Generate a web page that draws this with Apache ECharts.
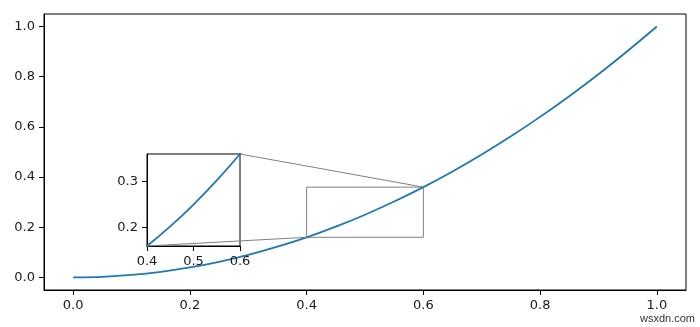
<!DOCTYPE html>
<html><head><meta charset="utf-8">
<script src="https://cdn.jsdelivr.net/npm/echarts@6/dist/echarts.min.js"></script>
<style>html,body{margin:0;padding:0;background:#fff}#c{width:700px;height:327px}</style>
</head><body><div id="c"></div>
<script>
// data
const xValues = [0,0.05,0.1,0.15,0.2,0.25,0.3,0.35,0.4,0.45,0.5,0.55,0.6,0.65,0.7,0.75,0.8,0.85,0.9,0.95,1.0];
const yValues = [0,0.0025,0.01,0.0225,0.04,0.0625,0.09,0.1225,0.16,0.2025,0.25,0.3025,0.36,0.4225,0.49,0.5625,0.64,0.7225,0.81,0.9025,1.0];
const mainXTicks = [0,0.2,0.4,0.6,0.8,1.0];
const mainYTicks = [0,0.2,0.4,0.6,0.8,1.0];
const zoomX = [0.4,0.6];
const zoomY = [0.16,0.36];
const insetXTicks = [0.4,0.5,0.6];
const insetYTicks = [0.2,0.3];

const pts = xValues.map((x,i)=>[x,yValues[i]]);
const FONT = 'DejaVu Sans';
const BLUE = '#1f77b4';
const GRAY = '#808080';
const chart = echarts.init(document.getElementById('c'), null, {renderer:'canvas'});

function axisCommon(ticks, fmt, margin){
  return {
    type:'value',
    axisLine:{show:true,onZero:false,lineStyle:{color:'#000',width:1}},
    axisTick:{show:true,inside:false,length:5,customValues:ticks,lineStyle:{color:'#000',width:1}},
    axisLabel:{show:true,customValues:ticks,formatter:fmt,color:'#1a1a1a',fontFamily:FONT,fontSize:13,margin:margin},
    splitLine:{show:false}
  };
}
const f1 = v=>v.toFixed(1);

chart.setOption({
  animation:false,
  backgroundColor:'#fff',
  grid:[
    {left:44,top:14,width:642,height:276,show:true,borderColor:'#000',borderWidth:1,backgroundColor:'transparent'},
    {left:147,top:154,width:93,height:92,show:true,borderColor:'#000',borderWidth:1,backgroundColor:'#fff',z:10}
  ],
  xAxis:[
    Object.assign(axisCommon(mainXTicks,f1,9),{gridIndex:0,min:-0.05,max:1.05}),
    Object.assign(axisCommon(insetXTicks,f1,9),{gridIndex:1,min:zoomX[0],max:zoomX[1],z:10})
  ],
  yAxis:[
    Object.assign(axisCommon(mainYTicks,f1,9),{gridIndex:0,min:-0.05,max:1.05}),
    Object.assign(axisCommon(insetYTicks,f1,9),{gridIndex:1,min:zoomY[0],max:zoomY[1],z:10})
  ],
  series:[
    {type:'line',xAxisIndex:0,yAxisIndex:0,data:pts,showSymbol:false,smooth:0.3,lineStyle:{color:BLUE,width:1.8},z:2,
     markArea:{silent:true,itemStyle:{color:'rgba(0,0,0,0)',borderColor:GRAY,borderWidth:1},
       data:[[{coord:[zoomX[0],zoomY[0]]},{coord:[zoomX[1],zoomY[1]]}]]}},
    {type:'line',xAxisIndex:1,yAxisIndex:1,data:pts,showSymbol:false,smooth:0.3,clip:true,lineStyle:{color:BLUE,width:1.8},z:12}
  ]
});

// connector lines from inset corners to zoom rectangle corners
const insetTR = chart.convertToPixel({xAxisIndex:1,yAxisIndex:1},[zoomX[1],zoomY[1]]);
const insetBL = chart.convertToPixel({xAxisIndex:1,yAxisIndex:1},[zoomX[0],zoomY[0]]);
const rectTR = chart.convertToPixel({xAxisIndex:0,yAxisIndex:0},[zoomX[1],zoomY[1]]);
const rectBL = chart.convertToPixel({xAxisIndex:0,yAxisIndex:0},[zoomX[0],zoomY[0]]);
chart.setOption({graphic:[
  {type:'line',shape:{x1:insetTR[0],y1:insetTR[1],x2:rectTR[0],y2:rectTR[1]},style:{stroke:GRAY,lineWidth:1},z:50},
  {type:'line',shape:{x1:insetBL[0],y1:insetBL[1],x2:rectBL[0],y2:rectBL[1]},style:{stroke:GRAY,lineWidth:1},z:50},
  {type:'text',right:5,bottom:3,style:{text:'wsxdn.com',fill:'#333',font:'11px "Liberation Sans Narrow", "Liberation Sans", sans-serif'}}
]});
</script></body></html>
